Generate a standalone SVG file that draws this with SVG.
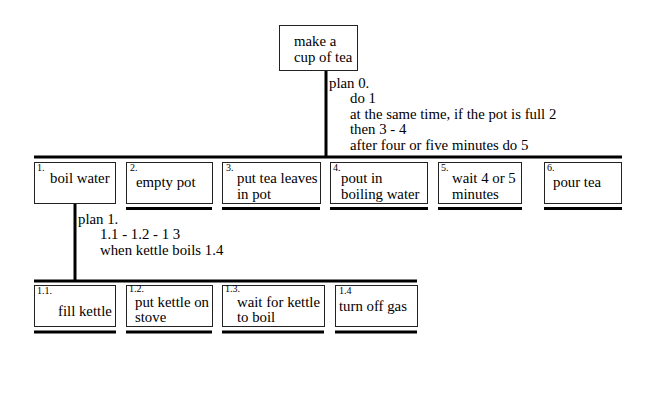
<svg xmlns="http://www.w3.org/2000/svg" width="657" height="400" viewBox="0 0 657 400">
<style>
.box{fill:#fff;stroke:#222;stroke-width:1}
.bar{stroke:#000;stroke-width:3;fill:none}
.t{font-size:14.8px;fill:#000}
.n{font-size:10px;fill:#000}
</style>
<rect width="657" height="400" fill="#fff"/>
<g id="connectors">
<line class="bar" x1="326" y1="70" x2="326" y2="157"/>
<line class="bar" x1="34" y1="157" x2="622" y2="157"/>
<line class="bar" x1="75" y1="204" x2="75" y2="281"/>
<line class="bar" x1="34" y1="281" x2="417" y2="281"/>
<line class="bar" x1="126" y1="208.5" x2="212" y2="208.5"/>
<line class="bar" x1="222" y1="208.5" x2="320" y2="208.5"/>
<line class="bar" x1="330" y1="208.5" x2="428" y2="208.5"/>
<line class="bar" x1="438" y1="208.5" x2="522" y2="208.5"/>
<line class="bar" x1="544" y1="208.5" x2="622" y2="208.5"/>
<line class="bar" x1="34" y1="332" x2="116" y2="332"/>
<line class="bar" x1="126" y1="332" x2="212" y2="332"/>
<line class="bar" x1="222" y1="332" x2="324" y2="332"/>
<line class="bar" x1="335" y1="332" x2="417" y2="332"/>
</g>
<g font-family="'Liberation Serif', 'Times New Roman', 'DejaVu Serif', serif">
<g id="plan0">
<text class="t" x="329" y="88">plan 0.</text>
<text class="t" x="350" y="103">do 1</text>
<text class="t" x="350" y="119">at the same time, if the pot is full 2</text>
<text class="t" x="350" y="134">then 3 - 4</text>
<text class="t" x="350" y="150">after four or five minutes do 5</text>
</g>
<g id="plan1">
<text class="t" x="78" y="224">plan 1.</text>
<text class="t" x="100" y="239">1.1 - 1.2 - 1 3</text>
<text class="t" x="100" y="255">when kettle boils 1.4</text>
</g>
<g id="n0">
<rect class="box" x="279.5" y="25.5" width="78" height="45"/>
<text class="t" x="294" y="46">make a</text>
<text class="t" x="294" y="62">cup of tea</text>
</g>
<g id="n1">
<rect class="box" x="34.5" y="162.5" width="81" height="41"/>
<text class="n" x="37" y="171">1.</text>
<text class="t" x="50" y="183">boil water</text>
</g>
<g id="n2">
<rect class="box" x="126.5" y="162.5" width="86" height="41"/>
<text class="n" x="130" y="171">2.</text>
<text class="t" x="136" y="187">empty pot</text>
</g>
<g id="n3">
<rect class="box" x="222.5" y="162.5" width="98" height="41"/>
<text class="n" x="226" y="171">3.</text>
<text class="t" x="237" y="183">put tea leaves</text>
<text class="t" x="237" y="199">in pot</text>
</g>
<g id="n4">
<rect class="box" x="330.5" y="162.5" width="97" height="41"/>
<text class="n" x="333" y="171">4.</text>
<text class="t" x="341" y="183">pout in</text>
<text class="t" x="341" y="199">boiling water</text>
</g>
<g id="n5">
<rect class="box" x="438.5" y="162.5" width="83" height="41"/>
<text class="n" x="441" y="171">5.</text>
<text class="t" x="452" y="183">wait 4 or 5</text>
<text class="t" x="452" y="199">minutes</text>
</g>
<g id="n6">
<rect class="box" x="544.5" y="162.5" width="77" height="41"/>
<text class="n" x="547" y="171">6.</text>
<text class="t" x="553" y="187">pour tea</text>
</g>
<g id="n11">
<rect class="box" x="34.5" y="285.5" width="81" height="41"/>
<text class="n" x="37" y="294">1.1.</text>
<text class="t" x="58" y="316">fill kettle</text>
</g>
<g id="n12">
<rect class="box" x="126.5" y="285.5" width="86" height="41"/>
<text class="n" x="129" y="292">1.2.</text>
<text class="t" x="135" y="307">put kettle on</text>
<text class="t" x="135" y="322">stove</text>
</g>
<g id="n13">
<rect class="box" x="222.5" y="285.5" width="102" height="41"/>
<text class="n" x="225" y="292">1.3.</text>
<text class="t" x="237" y="307">wait for kettle</text>
<text class="t" x="237" y="322">to boil</text>
</g>
<g id="n14">
<rect class="box" x="335.5" y="285.5" width="82" height="41"/>
<text class="n" x="339" y="294">1.4</text>
<text class="t" x="339" y="311">turn off gas</text>
</g>
</g>
</svg>
